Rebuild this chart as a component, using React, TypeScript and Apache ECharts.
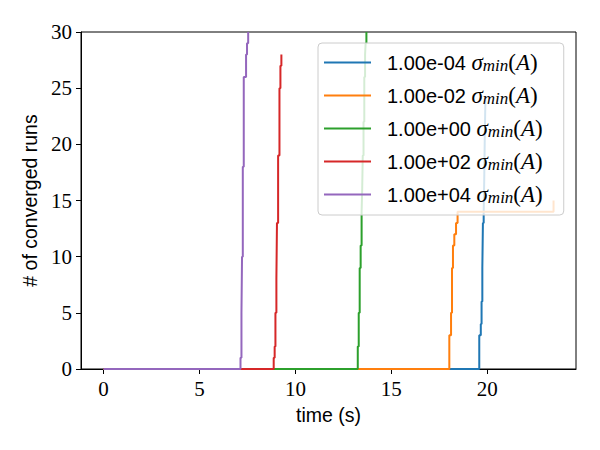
import React, { useEffect, useRef } from "react";
import * as echarts from "echarts";

// [time (s), # of converged runs]
const run1e_4: [number, number][] = [
  [0, 0], [19.58, 3], [19.66, 4], [19.70, 6], [19.74, 9], [19.77, 13], [19.81, 14], [19.84, 17], [19.87, 21], [19.9, 24],
];
const run1e_2: [number, number][] = [
  [0, 0], [18.02, 3], [18.11, 5], [18.16, 9], [18.21, 11], [18.28, 12], [18.37, 13], [18.45, 14], [23.45, 15],
];
const run1e00: [number, number][] = [
  [0, 0], [13.25, 2], [13.3, 5], [13.35, 9], [13.4, 11], [13.45, 14], [13.48, 16], [13.51, 19], [13.55, 22], [13.59, 26], [13.63, 28], [13.66, 29], [13.7, 30],
];
const run1e02: [number, number][] = [
  [0, 0], [8.87, 1], [8.92, 2], [8.96, 5], [9.01, 8], [9.04, 13], [9.1, 19], [9.17, 25], [9.22, 27], [9.27, 28],
];
const run1e04: [number, number][] = [
  [0, 0], [7.14, 1], [7.19, 5], [7.22, 10], [7.26, 18], [7.31, 26], [7.43, 28], [7.48, 29], [7.54, 30],
];

const seriesNames = ["1.00e-04", "1.00e-02", "1.00e+00", "1.00e+02", "1.00e+04"];
const seriesData = [run1e_4, run1e_2, run1e00, run1e02, run1e04];
const colors = ["#1f77b4", "#ff7f0e", "#2ca02c", "#d62728", "#9467bd"];
const xTickValues = [0, 5, 10, 15, 20];

export default function App() {
  const ref = useRef<HTMLDivElement>(null);
  useEffect(() => {
    if (!ref.current) return;
    const chart = echarts.init(ref.current, null, { renderer: "svg" });
    chart.setOption({
      animation: false,
      color: colors,
      grid: {
        left: 81,
        top: 32,
        right: 24,
        bottom: 81,
        show: true,
        borderColor: "#000",
        borderWidth: 1,
      },
      xAxis: {
        type: "value",
        min: -1.17,
        max: 24.62,
        name: "time (s)",
        nameLocation: "middle",
        nameGap: 36,
        nameTextStyle: { fontFamily: "Liberation Sans", fontSize: 19.5, color: "#000" },
        axisLine: { show: true, onZero: false, lineStyle: { color: "#000", width: 1 } },
        axisTick: { show: true, inside: false, length: 5, customValues: xTickValues, lineStyle: { color: "#000" } },
        axisLabel: {
          customValues: xTickValues,
          margin: 9,
          fontFamily: "Liberation Serif",
          fontSize: 21,
          color: "#000",
        },
        splitLine: { show: false },
      },
      yAxis: {
        type: "value",
        min: 0,
        max: 30,
        interval: 5,
        name: "# of converged runs",
        nameLocation: "middle",
        nameGap: 38,
        nameTextStyle: { fontFamily: "Liberation Sans", fontSize: 19.5, color: "#000" },
        axisLine: { show: true, onZero: false, lineStyle: { color: "#000", width: 1 } },
        axisTick: { show: true, inside: false, length: 5, lineStyle: { color: "#000" } },
        axisLabel: { margin: 9, fontFamily: "Liberation Serif", fontSize: 21, color: "#000" },
        splitLine: { show: false },
      },
      legend: {
        orient: "vertical",
        left: 318,
        top: 43,
        z: 10,
        padding: [8, 21, 9, 6],
        itemGap: 10,
        itemWidth: 47,
        itemHeight: 2,
        icon: "rect",
        backgroundColor: "rgba(255,255,255,0.8)",
        borderColor: "#cccccc",
        borderWidth: 1,
        borderRadius: 4,
        data: seriesNames,
        formatter: (name: string) => `{gap|}{n|${name}} {s|σ}{sub|min}{p|(}{s|A}{p|)}`,
        textStyle: {
          fontFamily: "Liberation Sans",
          fontSize: 20,
          color: "#000",
          lineHeight: 22,
          rich: {
            gap: { width: 11, lineHeight: 22 },
            n: { fontFamily: "Liberation Sans", fontSize: 20, color: "#000", lineHeight: 22 },
            s: { fontFamily: "Liberation Serif", fontStyle: "italic", fontSize: 23, color: "#000", lineHeight: 22 },
            p: { fontFamily: "Liberation Serif", fontSize: 23, color: "#000", lineHeight: 22 },
            sub: {
              fontFamily: "Liberation Serif",
              fontStyle: "italic",
              fontSize: 17,
              color: "#000",
              lineHeight: 10,
              verticalAlign: "bottom",
            },
          },
        },
      },
      series: seriesNames.map((name, i) => ({
        name,
        type: "line",
        step: "end",
        data: seriesData[i],
        symbol: "none",
        showSymbol: false,
        lineStyle: { width: 2, color: colors[i] },
        itemStyle: { color: colors[i] },
      })),
    });
    return () => chart.dispose();
  }, []);
  return <div ref={ref} style={{ position: "absolute", left: 0, top: 0, width: 600, height: 450 }} />;
}
